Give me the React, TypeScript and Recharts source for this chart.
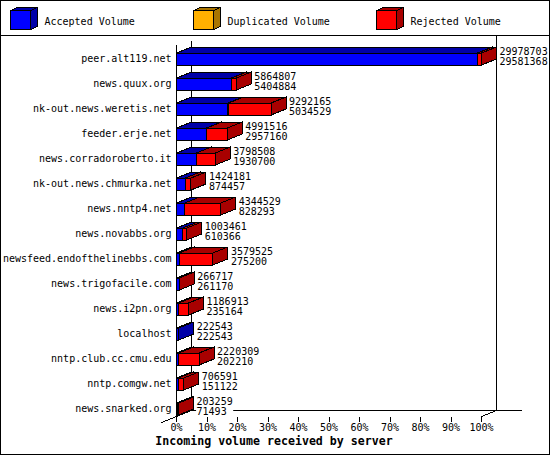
import React from "react";
import { BarChart, Bar, XAxis, YAxis, LabelList } from "recharts";

const HOSTS = [
  "peer.alt119.net",
  "news.quux.org",
  "nk-out.news.weretis.net",
  "feeder.erje.net",
  "news.corradoroberto.it",
  "nk-out.news.chmurka.net",
  "news.nntp4.net",
  "news.novabbs.org",
  "newsfeed.endofthelinebbs.com",
  "news.trigofacile.com",
  "news.i2pn.org",
  "localhost",
  "nntp.club.cc.cmu.edu",
  "nntp.comgw.net",
  "news.snarked.org",
];
const TOTAL = [
  29978703, 5864807, 9292165, 4991516, 3798508, 1424181, 4344529, 1003461,
  3579525, 266717, 1186913, 222543, 2220309, 706591, 203259,
];
const ACCEPTED = [
  29581368, 5404884, 5034529, 2957160, 1930700, 874457, 828293, 610366,
  275200, 261170, 235164, 222543, 202210, 151122, 71493,
];
const DUPLICATED = [0, 0, 100000, 0, 0, 0, 0, 0, 0, 0, 0, 0, 0, 0, 0];
const REJECTED = [
  397335, 459923, 4157636, 2034356, 1867808, 549724, 3516236, 393095,
  3304325, 5547, 951749, 0, 2018099, 555469, 131766,
];
const TICKS = [0, 10, 20, 30, 40, 50, 60, 70, 80, 90, 100];

const SERIES = [
  { key: "acc", name: "Accepted Volume", front: "#0000ff", dark: "#0000a8" },
  { key: "dup", name: "Duplicated Volume", front: "#ffb000", dark: "#a87400" },
  { key: "rej", name: "Rejected Volume", front: "#ff0000", dark: "#a80000" },
];

// layout
const W = 550;
const H = 455;
const LEFT = 176.5;
const RIGHT = 481.5;
const TOP = 46;
const BOTTOM = 421;
const DX = 15;
const DY = 6;
const FLOOR = 416.5;
const FONT = "'DejaVu Sans Mono', monospace";

const MAX = Math.max(...TOTAL);
const data = HOSTS.map((name, i) => ({
  name,
  acc: (ACCEPTED[i] / MAX) * 100,
  dup: (DUPLICATED[i] / MAX) * 100,
  rej: (REJECTED[i] / MAX) * 100,
}));

function Box3D(props: any) {
  const { x, y, width, height, front, dark } = props;
  if (!(width > 0)) return null;
  const r = x + width;
  return (
    <g stroke="#000" strokeWidth={1} shapeRendering="crispEdges">
      <rect x={x} y={y} width={width} height={height} fill={front} />
      <polygon
        points={`${x},${y} ${x + DX},${y - DY} ${r + DX},${y - DY} ${r},${y}`}
        fill={dark}
      />
      <polygon
        points={`${r},${y} ${r + DX},${y - DY} ${r + DX},${y + height - DY} ${r},${y + height}`}
        fill={dark}
      />
    </g>
  );
}

function ValueLabel(props: any) {
  const vb = props.viewBox ?? props;
  const i = HOSTS.indexOf(props.value);
  if (i < 0 || vb == null) return null;
  const tx = vb.x + vb.width + DX + 3;
  const cy = vb.y + vb.height / 2;
  const a = String(TOTAL[i]);
  const b = String(ACCEPTED[i]);
  const w = Math.max(a.length, b.length) * 6.02 + 1;
  return (
    <g>
      <rect x={tx - 0.5} y={cy - 12} width={w} height={20} fill="#fff" />
      <text x={tx} y={cy - 4} fontSize={10} fontFamily={FONT} fill="#000">
        {a}
      </text>
      <text x={tx} y={cy + 6} fontSize={10} fontFamily={FONT} fill="#000">
        {b}
      </text>
    </g>
  );
}

function XTick(props: any) {
  const { x, payload } = props;
  return (
    <g>
      <line x1={x} x2={x} y1={FLOOR} y2={FLOOR + 5} stroke="#000" shapeRendering="crispEdges" />
      <text x={x} y={FLOOR + 14.5} textAnchor="middle" fontSize={10} fontFamily={FONT} fill="#000">
        {payload.value}%
      </text>
    </g>
  );
}

function YTick(props: any) {
  const { y, payload } = props;
  return (
    <text x={LEFT - 5} y={y + 3.5} textAnchor="end" fontSize={10} fontFamily={FONT} fill="#000">
      {payload.value}
    </text>
  );
}

function LegendCube({ x, front, dark }: { x: number; front: string; dark: string }) {
  const y = 10.5;
  const w = 20;
  const h = 19;
  return (
    <g stroke="#000" strokeWidth={1} shapeRendering="crispEdges">
      <rect x={x} y={y} width={w} height={h} fill={front} />
      <polygon points={`${x},${y} ${x + 7},${y - 3} ${x + w + 7},${y - 3} ${x + w},${y}`} fill={dark} />
      <polygon
        points={`${x + w},${y} ${x + w + 7},${y - 3} ${x + w + 7},${y + h - 3} ${x + w},${y + h}`}
        fill={dark}
      />
    </g>
  );
}

export default function App() {
  return (
    <div style={{ position: "absolute", left: 0, top: 0, width: W, height: H, background: "#fff" }}>
      <svg width={W} height={H} style={{ position: "absolute", left: 0, top: 0 }}>
        <g stroke="#000" strokeWidth={1} shapeRendering="crispEdges" fill="none">
          <rect x={0.5} y={0.5} width={W - 1} height={H - 1} />
          <line x1={0} x2={W} y1={35.5} y2={35.5} />
          <line x1={LEFT + DX} x2={LEFT + DX} y1={40.5} y2={FLOOR - DY} />
          <line x1={LEFT} x2={LEFT} y1={45} y2={FLOOR} />
          <line x1={RIGHT + DX} x2={RIGHT + DX} y1={35.5} y2={FLOOR - DY} />
          <line x1={LEFT + DX} x2={522} y1={FLOOR - DY} y2={FLOOR - DY} />
          <line x1={LEFT + DX} y1={FLOOR - DY} x2={LEFT - 15} y2={FLOOR + 6} />
          <line x1={RIGHT} y1={FLOOR} x2={RIGHT + DX} y2={FLOOR - DY} />
        </g>
        {SERIES.map((s, i) => (
          <g key={s.key}>
            <LegendCube x={10.5 + i * 183} front={s.front} dark={s.dark} />
            <text x={44.5 + i * 183} y={24.5} fontSize={10} fontFamily={FONT} fill="#000">
              {s.name}
            </text>
          </g>
        ))}
        <text
          x={274}
          y={445}
          textAnchor="middle"
          fontSize={11.6}
          fontWeight="bold"
          fontFamily={FONT}
          fill="#000"
        >
          Incoming volume received by server
        </text>
      </svg>
      <div style={{ position: "absolute", left: 0, top: 0 }}>
        <BarChart
          width={W}
          height={H}
          data={data}
          layout="vertical"
          barSize={12}
          margin={{ top: TOP, right: W - RIGHT, bottom: 0, left: 0 }}
        >
          <XAxis
            type="number"
            domain={[0, 100]}
            ticks={TICKS}
            interval={0}
            height={H - BOTTOM}
            axisLine={false}
            tickLine={false}
            tick={(p: any) => <XTick {...p} />}
          />
          <YAxis
            type="category"
            dataKey="name"
            width={LEFT}
            interval={0}
            axisLine={false}
            tickLine={false}
            tick={(p: any) => <YTick {...p} />}
          />
          {SERIES.map((s, i) => (
            <Bar
              key={s.key}
              dataKey={s.key}
              stackId="vol"
              isAnimationActive={false}
              shape={(p: any) => <Box3D {...p} front={s.front} dark={s.dark} />}
            >
              {i === SERIES.length - 1 && (
                <LabelList dataKey="name" content={(p: any) => <ValueLabel {...p} />} />
              )}
            </Bar>
          ))}
        </BarChart>
      </div>
    </div>
  );
}
